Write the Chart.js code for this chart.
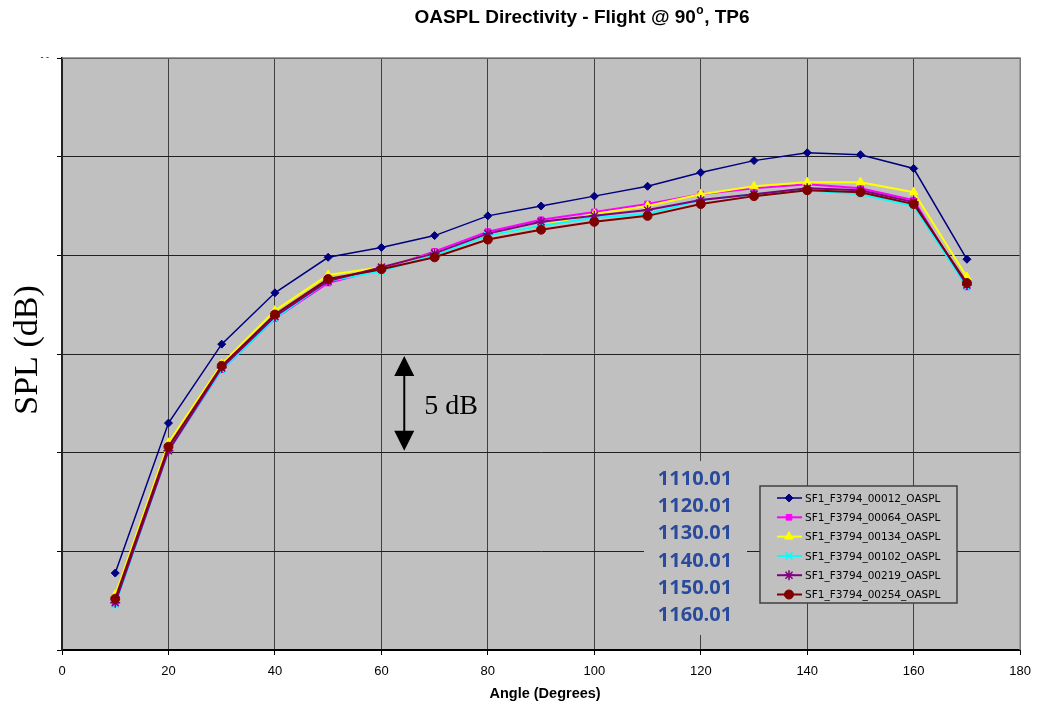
<!DOCTYPE html>
<html>
<head>
<meta charset="utf-8">
<script src="https://cdn.jsdelivr.net/npm/chart.js@4.4.1/dist/chart.umd.min.js"></script>
<style>
  html, body { margin: 0; padding: 0; background: #fff; }
  #wrap { width: 1040px; height: 710px; position: relative; }
</style>
</head>
<body>
<div id="wrap"><canvas id="oaspl"></canvas></div>
<script>
// angles (deg)
const angles = [10, 20, 30, 40, 50, 60, 70, 80, 90, 100, 110, 120, 130, 140, 150, 160, 170];

// OASPL per run (dB, relative scale - axis labels are hidden in the original)
const run00012 = [73.9, 81.5, 85.5, 88.1, 89.9, 90.4, 91.0, 92.0, 92.5, 93.0, 93.5, 94.2, 94.8, 95.2, 95.1, 94.4, 89.8];
const run00064 = [72.4, 80.1, 84.2, 86.8, 88.6, 89.3, 90.2, 91.2, 91.8, 92.2, 92.6, 93.1, 93.4, 93.6, 93.4, 92.8, 88.4];
const run00134 = [72.8, 80.5, 84.5, 87.2, 89.0, 89.4, 90.1, 91.0, 91.5, 92.1, 92.5, 93.1, 93.5, 93.7, 93.7, 93.2, 88.9];
const run00102 = [72.3, 80.1, 84.2, 86.8, 88.7, 89.2, 90.0, 91.0, 91.5, 91.9, 92.1, 92.8, 93.1, 93.3, 93.1, 92.5, 88.4];
const run00219 = [72.4, 80.1, 84.3, 86.9, 88.7, 89.4, 90.1, 91.1, 91.7, 92.0, 92.3, 92.8, 93.1, 93.4, 93.3, 92.7, 88.5];
const run00254 = [72.6, 80.3, 84.4, 87.0, 88.8, 89.3, 89.9, 90.8, 91.3, 91.7, 92.0, 92.6, 93.0, 93.3, 93.2, 92.6, 88.6];

const seriesNames = ["SF1_F3794_00012_OASPL", "SF1_F3794_00064_OASPL", "SF1_F3794_00134_OASPL",
                     "SF1_F3794_00102_OASPL", "SF1_F3794_00219_OASPL", "SF1_F3794_00254_OASPL"];
const seriesData = [run00012, run00064, run00134, run00102, run00219, run00254];

const xTicks = [0, 20, 40, 60, 80, 100, 120, 140, 160, 180];
const yTicks = [70, 75, 80, 85, 90, 95, 100];

// text annotations in the plot
const runLabels = ["1110.01", "1120.01", "1130.01", "1140.01", "1150.01", "1160.01"];
const scaleBar = { angle: 64.3, from: 80.1, to: 84.9, text: "5 dB" };

const styles = [
  { color: "#000080", shape: "rectRot",  r: 4,   w: 1.5 },
  { color: "#FF00FF", shape: "rect",     r: 4,   w: 2 },
  { color: "#FFFF00", shape: "triangle", r: 5,   w: 2 },
  { color: "#00FFFF", shape: "crossRot", r: 5,   w: 2 },
  { color: "#800080", shape: "star",     r: 5,   w: 2 },
  { color: "#800000", shape: "circle",   r: 4.5, w: 2 }
];

const datasets = seriesData.map((d, i) => ({
  label: seriesNames[i],
  data: d.map((v, j) => ({ x: angles[j], y: v })),
  borderColor: styles[i].color,
  backgroundColor: styles[i].color,
  borderWidth: styles[i].w,
  pointStyle: styles[i].shape,
  pointRadius: styles[i].r,
  pointBorderWidth: i == 3 || i == 4 ? 1.5 : 1,
  pointHoverRadius: styles[i].r,
  tension: 0,
  order: seriesData.length - i
}));

const PLOT_BG = "#C0C0C0";

const decor = {
  id: 'decor',
  beforeDraw(chart) {
    const { ctx, chartArea: a } = chart;
    ctx.save();
    ctx.fillStyle = PLOT_BG;
    ctx.fillRect(a.left, a.top, a.right - a.left, a.bottom - a.top);
    ctx.restore();
  },
  afterDatasetsDraw(chart) {
    const { ctx, chartArea: a, scales } = chart;
    const x = scales.x, y = scales.y;
    ctx.save();

    // top / right frame
    ctx.strokeStyle = "#808080";
    ctx.lineWidth = 1.5;
    ctx.beginPath();
    ctx.moveTo(a.left, a.top); ctx.lineTo(a.right, a.top); ctx.lineTo(a.right, a.bottom);
    ctx.stroke();

    // scale bar arrow
    const ax = x.getPixelForValue(scaleBar.angle);
    const yTop = y.getPixelForValue(scaleBar.to), yBot = y.getPixelForValue(scaleBar.from);
    ctx.strokeStyle = "#000"; ctx.fillStyle = "#000"; ctx.lineWidth = 2;
    ctx.beginPath(); ctx.moveTo(ax, yTop + 18); ctx.lineTo(ax, yBot - 18); ctx.stroke();
    ctx.beginPath(); ctx.moveTo(ax, yTop); ctx.lineTo(ax - 10, yTop + 20); ctx.lineTo(ax + 10, yTop + 20); ctx.closePath(); ctx.fill();
    ctx.beginPath(); ctx.moveTo(ax, yBot); ctx.lineTo(ax - 10, yBot - 20); ctx.lineTo(ax + 10, yBot - 20); ctx.closePath(); ctx.fill();
    ctx.font = "28px 'Liberation Serif', 'Times New Roman', serif";
    ctx.textAlign = "left"; ctx.textBaseline = "middle";
    ctx.fillText(scaleBar.text, ax + 20, (yTop + yBot) / 2 + 3);

    // run number box
    ctx.fillStyle = PLOT_BG;
    ctx.fillRect(644, 461, 103, 174);
    ctx.fillStyle = "#2A4A9C";
    ctx.font = "bold 20px 'Open Sans', 'Liberation Sans', sans-serif";
    ctx.textAlign = "center";
    runLabels.forEach((t, i) => ctx.fillText(t, 695, 479 + i * 27.3));

    // legend
    const lx = 760, ly = 486, lw = 197, lh = 117;
    ctx.fillStyle = PLOT_BG;
    ctx.fillRect(lx, ly, lw, lh);
    ctx.strokeStyle = "#404040"; ctx.lineWidth = 1.5;
    ctx.strokeRect(lx, ly, lw, lh);
    ctx.font = "10.5px 'DejaVu Sans', Verdana, sans-serif";
    ctx.textAlign = "left";
    chart.data.datasets.forEach((ds, i) => {
      const ry = ly + 12 + i * 19.3;
      ctx.strokeStyle = ds.borderColor; ctx.lineWidth = ds.borderWidth;
      ctx.beginPath(); ctx.moveTo(lx + 17, ry); ctx.lineTo(lx + 42, ry); ctx.stroke();
      ctx.lineWidth = ds.pointBorderWidth;
      ctx.fillStyle = ds.backgroundColor;
      Chart.helpers.drawPoint(ctx, { pointStyle: ds.pointStyle, radius: ds.pointRadius, borderWidth: ds.pointBorderWidth, rotation: 0 }, lx + 29, ry);
      ctx.fillStyle = "#000";
      ctx.fillText(ds.label, lx + 45, ry + 1);
    });

    // titles
    ctx.fillStyle = "#000";
    ctx.textAlign = "left";
    ctx.font = "bold 19px 'Liberation Sans', Arial, sans-serif";
    const t1 = "OASPL Directivity - Flight @ 90", t2 = ", TP6";
    const w1 = ctx.measureText(t1).width, w2 = ctx.measureText(t2).width;
    ctx.font = "bold 12px 'Liberation Sans', Arial, sans-serif";
    const wo = ctx.measureText("o").width + 1;
    let tx = 582 - (w1 + wo + w2) / 2;
    ctx.font = "bold 19px 'Liberation Sans', Arial, sans-serif";
    ctx.fillText(t1, tx, 18);
    ctx.font = "bold 12px 'Liberation Sans', Arial, sans-serif";
    ctx.fillText("o", tx + w1 + 0.5, 11);
    ctx.font = "bold 19px 'Liberation Sans', Arial, sans-serif";
    ctx.fillText(t2, tx + w1 + wo, 18);

    ctx.textAlign = "center";
    ctx.font = "bold 14.5px 'Liberation Sans', Arial, sans-serif";
    ctx.fillText("Angle (Degrees)", (a.left + a.right) / 2 + 4, 694);
    ctx.save();
    ctx.translate(28, 350);
    ctx.rotate(-Math.PI / 2);
    ctx.font = "34px 'Liberation Serif', 'Times New Roman', serif";
    ctx.fillText("SPL (dB)", 0, 0);
    ctx.restore();

    ctx.restore();
  }
};

const config = {
  type: 'line',
  data: { labels: angles, datasets: datasets },
  options: {
    responsive: true,
    maintainAspectRatio: false,
    animation: false,
    layout: { padding: { top: 58, right: 18, left: 0, bottom: 0 } },
    plugins: {
      legend: { display: false },
      title: { display: false },
      tooltip: { enabled: false }
    },
    scales: {
      x: {
        type: 'linear',
        min: 0, max: 180,
        afterBuildTicks: s => { s.ticks = xTicks.map(v => ({ value: v })); },
        afterFit: s => { s.height = 60; },
        grid: { color: "#404040", lineWidth: 1, tickLength: 5, tickColor: "#000" },
        border: { color: "#000", width: 2 },
        ticks: { color: "#000", padding: 9, font: { family: "'Liberation Sans Narrow', 'Liberation Sans', Arial", size: 13 } }
      },
      y: {
        min: 70, max: 100,
        afterBuildTicks: s => { s.ticks = yTicks.map(v => ({ value: v })); },
        afterFit: s => { s.width = 62; },
        grid: { color: "#202020", lineWidth: 1, tickLength: 5, tickColor: "#000" },
        border: { color: "#202020", width: 2 },
        ticks: {
          color: "#000",
          padding: 8,
          font: { size: 9 },
          callback: v => v === 100 ? "- -" : ""
        }
      }
    }
  },
  plugins: [decor]
};

const oasplChart = new Chart(document.getElementById('oaspl'), config);
</script>
</body>
</html>
